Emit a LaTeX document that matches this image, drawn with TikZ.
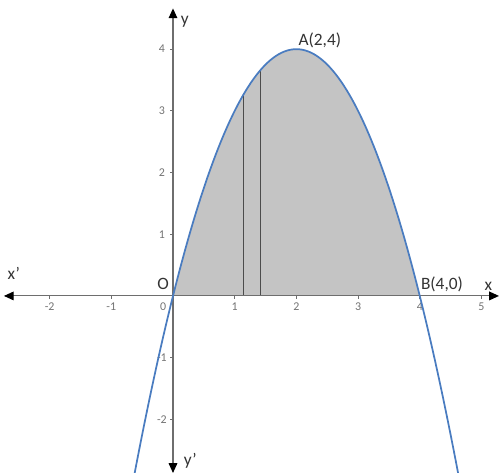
\documentclass[tikz,border=0pt]{standalone}
\usepackage{fontspec}
\setmainfont{Carlito}
\usetikzlibrary{arrows.meta}
\definecolor{curveblue}{RGB}{74,124,192}
\definecolor{areagray}{RGB}{196,196,196}
\definecolor{axisgray}{RGB}{110,110,110}

\begin{document}
\begin{tikzpicture}[
      axis/.style = {<->, draw=axisgray, line width=0.5pt, >={Triangle[length=4.5pt, width=4pt, color=black, fill=black]}},
      curve/.style = {draw=curveblue, line width=0.8pt},
      strip/.style = {draw=black!70, line width=0.45pt},
      tick/.style = {draw=axisgray, line width=0.4pt},
      ticklabel/.style = {text=black!55, font=\fontsize{5.5}{6}\selectfont, inner sep=0pt},
      lbl/.style = {text=black!80, font=\fontsize{8}{9}\selectfont, inner sep=0pt}
]
\useasboundingbox (-2.804,-2.869) rectangle (5.284,4.797);
% shaded region under the arch
\fill[areagray] (0,0) -- plot[domain=0:4, samples=80] (\x,{4*\x-\x*\x}) -- cycle;
% two thin strips
\coordinate (s1) at (1.14,0);
\coordinate (t1) at (1.14,{4*1.14-1.14*1.14});
\coordinate (s2) at (1.42,0);
\coordinate (t2) at (1.42,{4*1.42-1.42*1.42});
\draw[strip] (s1) -- (t1);
\draw[strip] (s2) -- (t2);
% axes
\coordinate (xl) at (-2.74,0);
\coordinate (xr) at (5.284,0);
\coordinate (yb) at (0,-2.869);
\coordinate (yt) at (0,4.66);
\draw[axis] (xl) -- (xr);
\draw[axis] (yb) -- (yt);
% ticks
\foreach \i in {-2,-1,1,2,3,4,5}
  {\draw[tick] (\i,0) -- (\i,-0.05);
   \node[ticklabel] (tx\i) at (\i,-0.18) {\i};}
\foreach \j in {-2,-1,1,2,3,4}
  {\draw[tick] (0,\j) -- (-0.05,\j);
   \node[ticklabel] (ty\j) at (-0.18,\j) {\j};}
\node[ticklabel] (t0) at (-0.16,-0.18) {0};
% the parabola
\draw[curve] plot[domain=-0.64:4.64, samples=120] (\x,{4*\x-\x*\x});
% labels
\node[lbl] (O)  at (-0.16,0.19)  {O};
\node[lbl] (A)  at (2.38,4.15)   {A(2,4)};
\node[lbl] (B)  at (4.36,0.18)   {B(4,0)};
\node[lbl] (x)  at (5.11,0.16)   {x};
\node[lbl] (x') at (-2.58,0.36)  {x'};
\node[lbl] (y)  at (0.19,4.44)   {y};
\node[lbl] (y') at (0.28,-2.67)  {y'};

\end{tikzpicture}
\end{document}
